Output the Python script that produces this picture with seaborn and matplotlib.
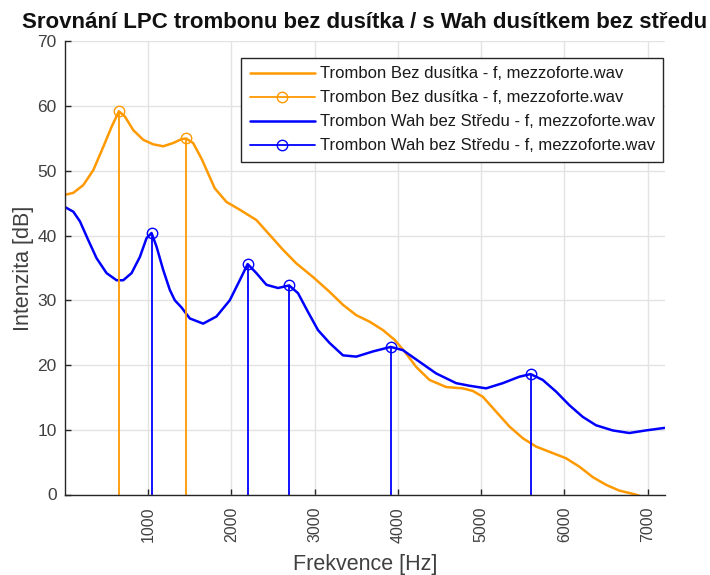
import numpy as np
import pandas as pd
import matplotlib
matplotlib.use("Agg")
import matplotlib.pyplot as plt
import seaborn as sns
from matplotlib.lines import Line2D
from matplotlib.legend_handler import HandlerLine2D

# LPC envelope, trombone without mute
open_freq = [0, 100, 220, 340, 460, 560, 648, 720, 820, 940, 1060, 1180, 1300,
             1400, 1455, 1540, 1640, 1720, 1800, 1940, 2100, 2300, 2460, 2620,
             2780, 2980, 3180, 3340, 3500, 3660, 3820, 3960, 4080, 4220, 4380,
             4580, 4780, 4900, 5020, 5180, 5340, 5500, 5660, 5860, 6020, 6180,
             6340, 6500, 6660, 6840, 7000, 7210]
open_db = [46.3, 46.6, 47.8, 50.1, 53.7, 56.8, 59.2, 58.4, 56.3, 54.8, 54.1, 53.8, 54.3,
           54.9, 55.0, 54.3, 51.9, 49.6, 47.3, 45.2, 44.0, 42.4, 40.1, 37.8,
           35.7, 33.6, 31.3, 29.3, 27.7, 26.7, 25.4, 23.9, 22.1, 19.7, 17.7,
           16.6, 16.4, 16.0, 15.1, 12.8, 10.5, 8.7, 7.4, 6.4, 5.6, 4.3,
           2.7, 1.5, 0.6, 0.05, -0.6, -1.4]

# LPC envelope, trombone with Wah mute (no stem)
wah_freq = [0, 100, 180, 280, 380, 500, 620, 700, 800, 900, 980, 1040, 1100,
            1180, 1260, 1320, 1400, 1500, 1660, 1820, 1980, 2100, 2195, 2300,
            2420, 2560, 2693, 2800, 2920, 3040, 3180, 3340, 3500, 3700, 3913,
            4060, 4260, 4460, 4700, 4860, 5060, 5260, 5460, 5594, 5740, 5900,
            6060, 6220, 6380, 6580, 6780, 6980, 7210]
wah_db = [44.4, 43.7, 42.2, 39.3, 36.5, 34.2, 33.1, 33.1, 34.2, 36.7, 39.6, 40.4, 38.3,
          34.7, 31.6, 30.0, 28.9, 27.2, 26.4, 27.5, 30.0, 33.1, 35.6, 34.2,
          32.4, 31.9, 32.3, 31.1, 28.2, 25.4, 23.4, 21.5, 21.3, 22.1, 22.8,
          22.3, 20.5, 18.7, 17.2, 16.8, 16.4, 17.2, 18.2, 18.6, 17.7, 15.9,
          13.8, 12.0, 10.7, 9.9, 9.5, 9.9, 10.3]

# formant peaks
open_peak_freq = [648, 1455]
open_peak_db = [59.2, 55.0]
wah_peak_freq = [1040, 2195, 2693, 3913, 5594]
wah_peak_db = [40.4, 35.6, 32.3, 22.8, 18.6]

label_open = "Trombon Bez dusítka - f, mezzoforte.wav"
label_wah = "Trombon Wah bez Středu - f, mezzoforte.wav"

ORANGE = "#ff9900"
BLUE = "#0000ff"


class StemHandler(HandlerLine2D):
    # put the circle at the right end of the legend line, like MATLAB stem
    def get_xdata(self, legend, xdescent, ydescent, width, height, fontsize):
        xdata = [-xdescent, -xdescent + width]
        return xdata, [-xdescent + width - 4]


sns.set_theme(style="whitegrid")
plt.rcParams['font.family'] = ['Liberation Sans', 'DejaVu Sans']

fig = plt.figure(figsize=(7.1, 5.75), dpi=100)
ax = fig.add_axes([0.0915, 0.140, 0.845, 0.788])

df_open = pd.DataFrame({'freq': open_freq, 'db': open_db})
df_wah = pd.DataFrame({'freq': wah_freq, 'db': wah_db})

sns.lineplot(data=df_open, x='freq', y='db', ax=ax, color=ORANGE, lw=1.8, sort=False,
             solid_joinstyle='round')
sns.lineplot(data=df_wah, x='freq', y='db', ax=ax, color=BLUE, lw=1.8, sort=False,
             solid_joinstyle='round')

ax.vlines(open_peak_freq, 0, open_peak_db, color=ORANGE, lw=1.3)
ax.plot(open_peak_freq, open_peak_db, 'o', ms=7.5, mfc='none', mec=ORANGE, mew=1.0)
ax.vlines(wah_peak_freq, 0, wah_peak_db, color=BLUE, lw=1.3)
ax.plot(wah_peak_freq, wah_peak_db, 'o', ms=7.5, mfc='none', mec=BLUE, mew=1.0)

ax.set_xlim(0, 7208)
ax.set_ylim(0, 70)
ax.set_xticks([1000, 2000, 3000, 4000, 5000, 6000, 7000])
ax.set_yticks(np.arange(0, 71, 10))
ax.grid(True, color='#e3e3e3', lw=1.0)

for s in ['top', 'right']:
    ax.spines[s].set_visible(False)
for s in ['left', 'bottom']:
    ax.spines[s].set_color('#262626')
    ax.spines[s].set_linewidth(1.0)

ax.tick_params(axis='x', direction='in', length=4, width=1, color='#262626',
               labelsize=11.5, labelcolor='#404040', pad=9, labelrotation=90, bottom=True)
ax.tick_params(axis='y', direction='in', length=4, width=1, color='#262626',
               labelsize=12.5, labelcolor='#404040', pad=6, left=True)

ax.set_xlabel("Frekvence [Hz]", fontsize=15.5, color='#404040', labelpad=8)
ax.set_ylabel("Intenzita [dB]", fontsize=15.5, color='#404040', labelpad=2)
ax.set_title("Srovnání LPC trombonu bez dusítka / s Wah dusítkem bez středu",
             fontsize=16, fontweight='bold', color='#111111', pad=10)

handles = [
    Line2D([], [], color=ORANGE, lw=1.8),
    Line2D([], [], color=ORANGE, lw=1.3, marker='o', ms=7.5, mfc='none', mew=1.0),
    Line2D([], [], color=BLUE, lw=1.8),
    Line2D([], [], color=BLUE, lw=1.3, marker='o', ms=7.5, mfc='none', mew=1.0),
]
leg = ax.legend(handles, [label_open, label_open, label_wah, label_wah],
                loc='upper right', bbox_to_anchor=(0.997, 0.963), borderaxespad=0,
                fontsize=12, handlelength=3.9, handletextpad=0.3, labelspacing=0.54,
                frameon=True, fancybox=False, framealpha=1, edgecolor='#262626',
                borderpad=0.5,
                handler_map={handles[1]: StemHandler(), handles[3]: StemHandler()})
leg.get_frame().set_linewidth(1.0)
for t in leg.get_texts():
    t.set_color('#1a1a1a')

fig.savefig("out.png", dpi=100)
